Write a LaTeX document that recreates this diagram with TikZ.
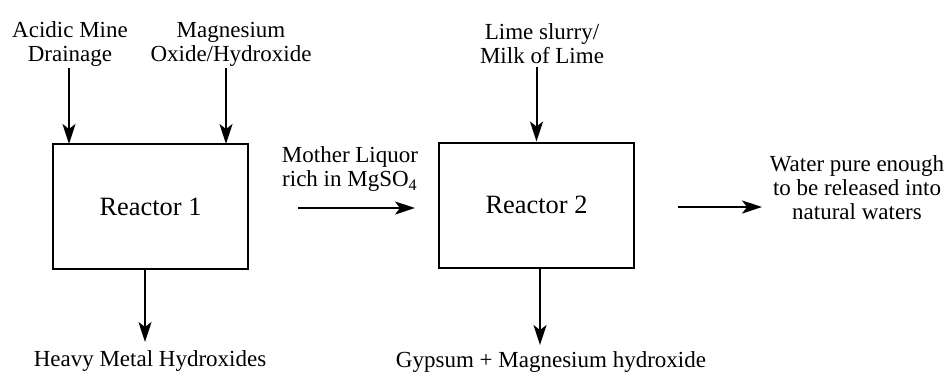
\documentclass[tikz,border=0pt]{standalone}
\usepackage{fontspec}
\setmainfont{Liberation Serif}
\usetikzlibrary{arrows.meta, positioning}

\begin{document}
\begin{tikzpicture}[x=0.5pt, y=-0.5pt, >={Stealth[length=10pt, width=6.5pt, inset=2.5pt]},
		line width=1pt, font=\fontsize{11.5pt}{12pt}\selectfont,
		reactor/.style={draw, minimum width=97.5pt, minimum height=62.5pt, inner sep=0pt,
			font=\fontsize{13.2pt}{14pt}\selectfont},
		label/.style={align=center, inner sep=1pt}]
		
		\useasboundingbox (0,0) rectangle (946,372);
		
		% ---------------------------------------------------------
		% Reactors
		% ---------------------------------------------------------
		\node[reactor] (r1) at (150.5,206.5) {Reactor 1};
		\node[reactor] (r2) at (536.5,205) {Reactor 2};
		
		% ---------------------------------------------------------
		% Inputs (top)
		% ---------------------------------------------------------
		\node[label] (amd) at (70,44) {Acidic Mine\\Drainage};
		\node[label] (mgo) at (231,44) {Magnesium\\Oxide/Hydroxide};
		\node[label] (lime) at (542,44) {Lime slurry/\\Milk of Lime};
		
		\coordinate (amdin) at (69,144);
		\coordinate (mgoin) at (226,144);
		\draw[->] (amdin |- 0,68) -- (amdin);
		\draw[->] (mgoin |- 0,68) -- (mgoin);
		\draw[->] (lime.south -| r2.north) -- (r2.north);
		
		% ---------------------------------------------------------
		% Mother liquor (between reactors)
		% ---------------------------------------------------------
		\node[label] (mother) at (350,169) {Mother Liquor\\rich in MgSO\textsubscript{4}};
		\coordinate (mlstart) at (298,208);
		\coordinate (mlend) at (415,208);
		\draw[->] (mlstart) -- (mlend);
		
		% ---------------------------------------------------------
		% Outputs
		% ---------------------------------------------------------
		\node[label] (heavy) at (150,361) {Heavy Metal Hydroxides};
		\node[label] (gyp) at (551,362) {Gypsum + Magnesium hydroxide};
		\draw[->] (145,0 |- r1.south) -- (145,342);
		\draw[->] (540,0 |- r2.south) -- (540,345);
		
		\node[label] (water) at (857,188) {Water pure enough\\to be released into\\natural waters};
		\coordinate (wstart) at (678,207);
		\coordinate (wend) at (762,207);
		\draw[->] (wstart) -- (wend);
		
	\end{tikzpicture}
\end{document}
